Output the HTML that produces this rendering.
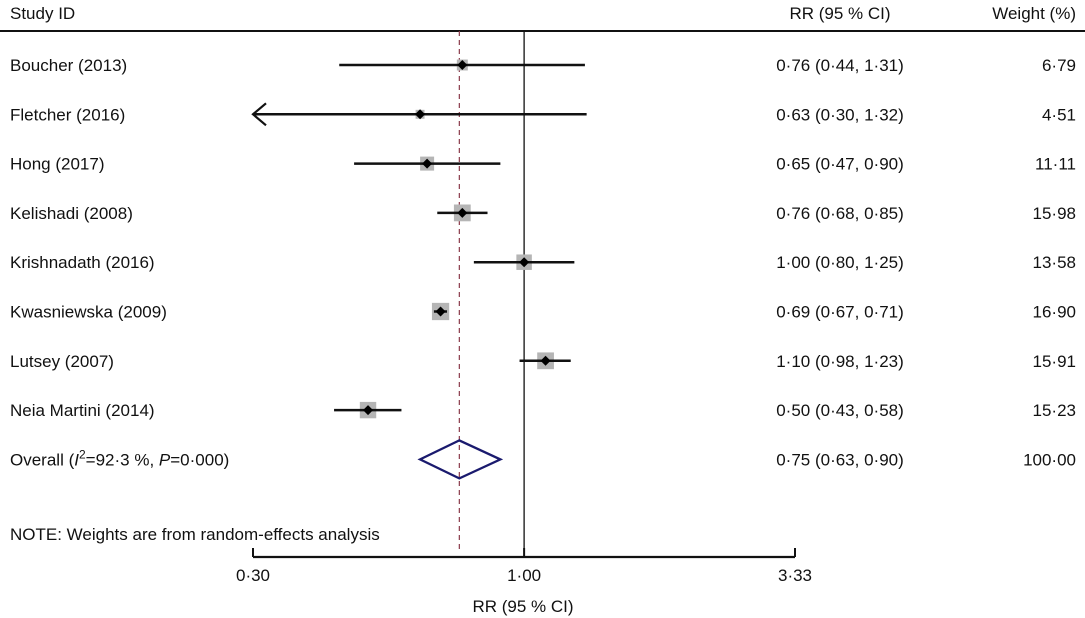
<!DOCTYPE html>
<html><head><meta charset="utf-8"><style>
html,body{margin:0;padding:0;background:#fff}
svg{display:block}
text{font-family:"Liberation Sans",sans-serif;font-size:17px;fill:#111}
</style></head><body>
<svg id="chart" width="1085" height="618" xmlns="http://www.w3.org/2000/svg">
<g>
<text x="10" y="19">Study ID</text>
<text x="840" y="19" text-anchor="middle">RR (95 % CI)</text>
<text x="1076" y="19" text-anchor="end">Weight (%)</text>
<line x1="0" y1="31" x2="1085" y2="31" stroke="#111" stroke-width="2"/>
</g>
<g id="plot"></g>
<text x="10" y="540">NOTE: Weights are from random-effects analysis</text>
<text x="523" y="612" text-anchor="middle">RR (95 % CI)</text>
</svg>
<script>
const studies = ["Boucher (2013)","Fletcher (2016)","Hong (2017)","Kelishadi (2008)","Krishnadath (2016)","Kwasniewska (2009)","Lutsey (2007)","Neia Martini (2014)"];
const rr = [0.76,0.63,0.65,0.76,1.00,0.69,1.10,0.50];
const lower = [0.44,0.30,0.47,0.68,0.80,0.67,0.98,0.43];
const upper = [1.31,1.32,0.90,0.85,1.25,0.71,1.23,0.58];
const weights = [6.79,4.51,11.11,15.98,13.58,16.90,15.91,15.23];
const overall = [0.75,0.63,0.90];
const ticks = [0.30,1.00,3.33];
const tickLabels = ["0·30","1·00","3·33"];

const NS="http://www.w3.org/2000/svg";
const g=document.getElementById('plot');
const xMin=0.30,xMax=3.33,px0=253,px1=795;
function xs(v){return px0+(Math.log(v)-Math.log(xMin))/(Math.log(xMax)-Math.log(xMin))*(px1-px0);}
function ys(i){return 65+i*49.3;}
function fmt(v){return v.toFixed(2).replace('.','·');}
function el(tag,attrs,parent){const e=document.createElementNS(NS,tag);for(const k in attrs)e.setAttribute(k,attrs[k]);(parent||g).appendChild(e);return e;}

const yOv=ys(studies.length);
// reference lines
const nl=el('line',{x1:xs(1),y1:31,x2:xs(1),y2:557,stroke:'#111','stroke-width':1.3});


const ol=el('line',{x1:xs(overall[0]),y1:31,x2:xs(overall[0]),y2:553,stroke:'#8b3a4a','stroke-width':1.2,'stroke-dasharray':'5,4'});



studies.forEach((s,i)=>{
  const y=ys(i);
  const row=el('g',{});
  
  
  const lab=el('text',{x:10,y:y+6},row);lab.textContent=s;
  
  
  const side=Math.sqrt(weights[i])*4.2;
  const box=el('rect',{x:xs(rr[i])-side/2,y:y-side/2,width:side,height:side,fill:'#b5b5b5'},row);
  
  
  const lo=Math.max(lower[i],xMin);
  const ci=el('line',{x1:xs(lo),y1:y,x2:xs(upper[i]),y2:y,stroke:'#111','stroke-width':2.5},row);
  
  
  if(lower[i]<=xMin){
    const a=el('path',{d:`M${xs(xMin)+13},${y-11} L${xs(xMin)},${y} L${xs(xMin)+13},${y+11}`,fill:'none',stroke:'#111','stroke-width':2.2},row);
    
    
  }
  const px=xs(rr[i]);
  const pt=el('path',{d:`M${px-5},${y} L${px},${y-5} L${px+5},${y} L${px},${y+5}Z`,fill:'#000'},row);
  
  
  const t=el('text',{x:840,y:y+6,'text-anchor':'middle'},row);t.textContent=`${fmt(rr[i])} (${fmt(lower[i])}, ${fmt(upper[i])})`;
  
  
  const w=el('text',{x:1076,y:y+6,'text-anchor':'end'},row);w.textContent=fmt(weights[i]);
  
  
});

// overall
const olab=el('text',{x:10,y:yOv+6});
olab.innerHTML='Overall (<tspan font-style="italic">I</tspan><tspan dy="-7" font-size="12">2</tspan><tspan dy="7">=92·3 %, </tspan><tspan font-style="italic">P</tspan>=0·000)';


const dm=el('path',{d:`M${xs(overall[1])},${yOv} L${xs(overall[0])},${yOv-19} L${xs(overall[2])},${yOv} L${xs(overall[0])},${yOv+19}Z`,fill:'none',stroke:'#1a1a6e','stroke-width':2.3});


const ot=el('text',{x:840,y:yOv+6,'text-anchor':'middle'});ot.textContent=`${fmt(overall[0])} (${fmt(overall[1])}, ${fmt(overall[2])})`;


const ow=el('text',{x:1076,y:yOv+6,'text-anchor':'end'});ow.textContent='100·00';



// axis
const ax=el('line',{x1:xs(ticks[0]),y1:557,x2:xs(ticks[ticks.length-1]),y2:557,stroke:'#111','stroke-width':2.2});


ticks.forEach((v,i)=>{
  const tk=el('line',{x1:xs(v),y1:548,x2:xs(v),y2:557,stroke:'#111','stroke-width':2});
  
  
  const tl=el('text',{x:xs(v),y:581,'text-anchor':'middle'});tl.textContent=tickLabels[i];
  
  
});
</script>
</body></html>
